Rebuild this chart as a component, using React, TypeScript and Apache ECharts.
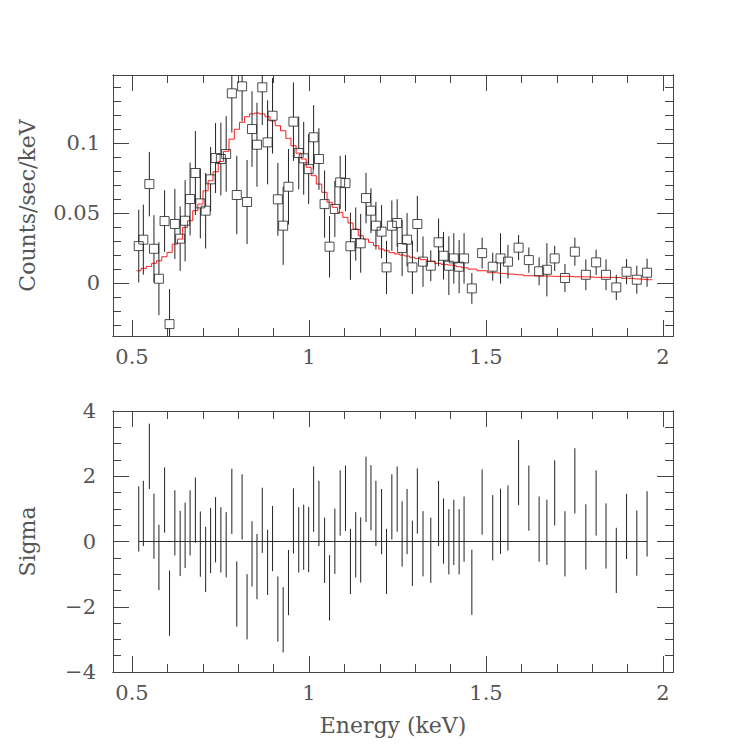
import React, { useEffect, useRef } from 'react';
import * as echarts from 'echarts';

// Bin centres (keV)
const energy = [
  0.519, 0.532, 0.549, 0.562, 0.576, 0.592, 0.606, 0.621, 0.636, 0.650,
  0.664, 0.679, 0.693, 0.708, 0.722, 0.736, 0.751, 0.766, 0.782, 0.796,
  0.811, 0.825, 0.839, 0.853, 0.868, 0.883, 0.897, 0.912, 0.927, 0.942,
  0.956, 0.971, 0.985, 0.999, 1.013, 1.028, 1.044, 1.058, 1.073, 1.088,
  1.103, 1.117, 1.132, 1.146, 1.161, 1.175, 1.189, 1.205, 1.219, 1.234,
  1.249, 1.263, 1.277, 1.292, 1.306, 1.322, 1.344, 1.366, 1.380, 1.395,
  1.409, 1.424, 1.438, 1.460, 1.489, 1.519, 1.541, 1.562, 1.592, 1.621,
  1.650, 1.672, 1.694, 1.723, 1.751, 1.782, 1.811, 1.839, 1.868, 1.897,
  1.926, 1.955,
];

// Observed rate (counts/sec/keV)
const counts = [
  0.0266, 0.0312, 0.0709, 0.0247, 0.0033, 0.0445, -0.0291, 0.0424, 0.0319, 0.0447,
  0.0602, 0.0788, 0.0571, 0.0519, 0.0743, 0.0895, 0.0888, 0.0924, 0.1357, 0.0631,
  0.1407, 0.0581, 0.1102, 0.0990, 0.1400, 0.1007, 0.1197, 0.0600, 0.0412, 0.0690,
  0.1155, 0.0931, 0.0893, 0.0816, 0.1043, 0.0888, 0.0566, 0.0262, 0.0531, 0.0721,
  0.0716, 0.0265, 0.0352, 0.0286, 0.0609, 0.0519, 0.0412, 0.0369, 0.0114, 0.0412,
  0.0431, 0.0252, 0.0312, 0.0114, 0.0424, 0.0155, 0.0126, 0.0293, 0.0197, 0.0126,
  0.0178, 0.0119, 0.0178, -0.0036, 0.0216, 0.0119, 0.0178, 0.0155, 0.0255, 0.0166,
  0.0086, 0.0097, 0.0178, 0.0038, 0.0226, 0.0061, 0.0150, 0.0061, -0.0029, 0.0083,
  0.0026, 0.0076,
];

// 1-sigma errors on the rate
const countErr = [
  0.026, 0.025, 0.023, 0.024, 0.026, 0.022, 0.025, 0.025, 0.023, 0.029,
  0.026, 0.030, 0.025, 0.027, 0.023, 0.025, 0.026, 0.027, 0.028, 0.028,
  0.025, 0.030, 0.027, 0.030, 0.027, 0.030, 0.027, 0.026, 0.028, 0.027,
  0.028, 0.026, 0.026, 0.025, 0.023, 0.022, 0.024, 0.022, 0.020, 0.019,
  0.020, 0.024, 0.019, 0.021, 0.018, 0.016, 0.017, 0.019, 0.019, 0.018,
  0.017, 0.020, 0.019, 0.019, 0.020, 0.018, 0.011, 0.017, 0.017, 0.021,
  0.018, 0.019, 0.018, 0.011, 0.011, 0.010, 0.018, 0.012, 0.009, 0.009,
  0.010, 0.019, 0.009, 0.010, 0.010, 0.011, 0.009, 0.011, 0.009, 0.009,
  0.010, 0.010,
];

// Folded model (red step line)
const model = [
  0.0090, 0.0107, 0.0121, 0.0143, 0.0161, 0.0190, 0.0221, 0.0280, 0.0316, 0.0400,
  0.0447, 0.0519, 0.0566, 0.0661, 0.0733, 0.0797, 0.0871, 0.0943, 0.1030, 0.1100,
  0.1150, 0.1190, 0.1210, 0.1216, 0.1210, 0.1190, 0.1160, 0.1126, 0.1090, 0.1036,
  0.0983, 0.0930, 0.0888, 0.0829, 0.0769, 0.0709, 0.0650, 0.0579, 0.0543, 0.0507,
  0.0471, 0.0431, 0.0388, 0.0340, 0.0316, 0.0293, 0.0269, 0.0245, 0.0233, 0.0219,
  0.0210, 0.0202, 0.0195, 0.0186, 0.0178, 0.0169, 0.0157, 0.0143, 0.0136, 0.0131,
  0.0126, 0.0119, 0.0111, 0.0102, 0.0090, 0.0076, 0.0071, 0.0066, 0.0061, 0.0054,
  0.0052, 0.0052, 0.0050, 0.0050, 0.0047, 0.0046, 0.0043, 0.0043, 0.0042, 0.0036,
  0.0031, 0.0026,
];

// Residuals in units of sigma
const sigma = [
  0.69, 0.86, 2.61, 0.47, -0.49, 1.27, -1.89, 0.57, -0.06, 0.19,
  0.57, 0.96, -0.08, -0.55, 0.03, 0.36, 0.05, -0.10, 1.23, -1.61,
  1.06, -2.00, -0.38, -0.77, 0.65, -0.64, 0.09, -2.07, -2.40, -1.26,
  0.63, 0.05, 0.13, 0.06, 1.30, 0.86, -0.27, -1.42, 0.01, 1.18,
  1.33, -0.61, -0.10, -0.26, 1.60, 1.34, 0.86, 0.61, -0.61, 1.06,
  1.30, 0.23, 0.61, -0.36, 1.24, -0.07, -0.27, 0.86, 0.32, -0.01,
  0.28, -0.01, 0.38, -1.25, 1.21, 0.42, 0.62, 0.72, 2.11, 1.33,
  0.38, 0.28, 1.49, -0.07, 1.86, 0.14, 1.18, 0.17, -0.58, 0.46,
  -0.05, 0.54,
];

// Axis ticks
const xMajorTicks = [0.5, 1, 1.5, 2];
const xMinorTicks = [0.5, 0.6, 0.7, 0.8, 0.9, 1.0, 1.1, 1.2, 1.3, 1.4, 1.5, 1.6, 1.7, 1.8, 1.9, 2.0];
const topYMajorTicks = [0, 0.05, 0.1];
const topYMinorTicks = [-0.03, -0.02, -0.01, 0, 0.01, 0.02, 0.03, 0.04, 0.05, 0.06, 0.07, 0.08, 0.09, 0.1, 0.11, 0.12, 0.13, 0.14];
const botYMajorTicks = [-4, -2, 0, 2, 4];
const botYMinorTicks = [-3.5, -3, -2.5, -2, -1.5, -1, -0.5, 0, 0.5, 1, 1.5, 2, 2.5, 3, 3.5];

const X_MIN = 0.4463;
const X_MAX = 2.0282;
const TOP_Y_MIN = -0.0376;
const TOP_Y_MAX = 0.1488;
const BOT_Y_MIN = -4;
const BOT_Y_MAX = 4;

const FONT = 'DejaVu Serif';
const TEXT_COLOR = '#555';
const AXIS_COLOR = '#444';
const FONT_SIZE = 22;

const minusFmt = (v: number) => (v < 0 ? '\u2212' + String(Math.abs(v)) : String(v));

function xAxisDef(gridIndex: number, position: string, ticks: number[], len: number, labels: boolean, name?: string) {
  return {
    type: 'value',
    gridIndex,
    position,
    min: X_MIN,
    max: X_MAX,
    name: name || '',
    nameLocation: 'middle',
    nameGap: 42,
    nameTextStyle: { fontFamily: FONT, fontSize: FONT_SIZE, color: TEXT_COLOR },
    axisLine: { show: true, onZero: false, lineStyle: { color: AXIS_COLOR, width: 1 } },
    axisTick: { show: true, inside: true, length: len, customValues: ticks, lineStyle: { color: AXIS_COLOR, width: 1 } },
    axisLabel: labels
      ? { show: true, customValues: xMajorTicks, margin: 10, fontFamily: FONT, fontSize: FONT_SIZE - 1, color: TEXT_COLOR, formatter: (v: number) => String(v) }
      : { show: false },
    splitLine: { show: false },
  };
}

function yAxisDef(gridIndex: number, position: string, min: number, max: number, ticks: number[], len: number, labelValues: number[] | null, margin: number, name?: string, nameGap?: number) {
  return {
    type: 'value',
    gridIndex,
    position,
    min,
    max,
    name: name || '',
    nameLocation: 'middle',
    nameGap: nameGap || 0,
    nameTextStyle: { fontFamily: FONT, fontSize: FONT_SIZE, color: TEXT_COLOR },
    axisLine: { show: true, onZero: false, lineStyle: { color: AXIS_COLOR, width: 1 } },
    axisTick: { show: true, inside: true, length: len, customValues: ticks, lineStyle: { color: AXIS_COLOR, width: 1 } },
    axisLabel: labelValues
      ? { show: true, customValues: labelValues, margin, fontFamily: FONT, fontSize: FONT_SIZE - 1, color: TEXT_COLOR, formatter: minusFmt }
      : { show: false },
    splitLine: { show: false },
  };
}

export default function App() {
  const ref = useRef<HTMLDivElement>(null);

  useEffect(() => {
    if (!ref.current) return;
    const chart = echarts.init(ref.current, undefined, { renderer: 'svg' });

    const pointData = energy.map((e, i) => [e, counts[i], countErr[i]]);
    const residData = energy.map((e, i) => [e, sigma[i]]);
    const n = energy.length;
    const lowEdge = energy[0] - (energy[1] - energy[0]) / 2;
    const highEdge = energy[n - 1] + (energy[n - 1] - energy[n - 2]) / 2;
    const modelData = [[lowEdge, model[0]], ...energy.map((e, i) => [e, model[i]]), [highEdge, model[n - 1]]];

    const SQ = 4.5;

    const option = {
      animation: false,
      backgroundColor: '#fff',
      grid: [
        { left: 113, top: 75, width: 560, height: 261 },
        { left: 113, top: 411, width: 560, height: 261 },
      ],
      xAxis: [
        xAxisDef(0, 'bottom', xMajorTicks, 16, true),
        xAxisDef(0, 'bottom', xMinorTicks, 8, false),
        xAxisDef(0, 'top', xMajorTicks, 16, false),
        xAxisDef(0, 'top', xMinorTicks, 8, false),
        xAxisDef(1, 'bottom', xMajorTicks, 16, true, 'Energy (keV)'),
        xAxisDef(1, 'bottom', xMinorTicks, 8, false),
        xAxisDef(1, 'top', xMajorTicks, 16, false),
        xAxisDef(1, 'top', xMinorTicks, 8, false),
      ],
      yAxis: [
        yAxisDef(0, 'left', TOP_Y_MIN, TOP_Y_MAX, topYMajorTicks, 16, topYMajorTicks, 13, 'Counts/sec/keV', 75),
        yAxisDef(0, 'left', TOP_Y_MIN, TOP_Y_MAX, topYMinorTicks, 8, null, 0),
        yAxisDef(0, 'right', TOP_Y_MIN, TOP_Y_MAX, topYMajorTicks, 16, null, 0),
        yAxisDef(0, 'right', TOP_Y_MIN, TOP_Y_MAX, topYMinorTicks, 8, null, 0),
        yAxisDef(1, 'left', BOT_Y_MIN, BOT_Y_MAX, botYMajorTicks, 16, botYMajorTicks, 17, 'Sigma', 75),
        yAxisDef(1, 'left', BOT_Y_MIN, BOT_Y_MAX, botYMinorTicks, 8, null, 0),
        yAxisDef(1, 'right', BOT_Y_MIN, BOT_Y_MAX, botYMajorTicks, 16, null, 0),
        yAxisDef(1, 'right', BOT_Y_MIN, BOT_Y_MAX, botYMinorTicks, 8, null, 0),
      ],
      series: [
        {
          type: 'line',
          name: 'model',
          xAxisIndex: 0,
          yAxisIndex: 0,
          step: 'middle',
          data: modelData,
          showSymbol: false,
          symbol: 'none',
          lineStyle: { color: '#ff1a1a', width: 1 },
          z: 3,
        },
        {
          type: 'custom',
          name: 'errors',
          xAxisIndex: 0,
          yAxisIndex: 0,
          data: pointData,
          renderItem: (params: any, api: any) => {
            const x = api.value(0);
            const y = api.value(1);
            const e = api.value(2);
            const c = api.coord([x, y]);
            const t = api.coord([x, y + e]);
            const b = api.coord([x, y - e]);
            const cs = params.coordSys;
            const clamp = (v: number) => Math.max(cs.y, Math.min(cs.y + cs.height, v));
            const style = { stroke: '#222', lineWidth: 1 };
            const children: any[] = [];
            const yt = clamp(t[1]);
            const yb = clamp(b[1]);
            if (yt < c[1] - SQ) children.push({ type: 'line', shape: { x1: c[0], y1: yt, x2: c[0], y2: c[1] - SQ }, style });
            if (yb > c[1] + SQ) children.push({ type: 'line', shape: { x1: c[0], y1: c[1] + SQ, x2: c[0], y2: yb }, style });
            return { type: 'group', children };
          },
          z: 4,
        },
        {
          type: 'scatter',
          name: 'data',
          xAxisIndex: 0,
          yAxisIndex: 0,
          data: pointData.map((p) => [p[0], p[1]]),
          symbol: 'rect',
          symbolSize: 9,
          itemStyle: { color: 'rgba(0,0,0,0)', borderColor: '#222', borderWidth: 1 },
          z: 5,
        },
        {
          type: 'line',
          name: 'zero',
          xAxisIndex: 4,
          yAxisIndex: 4,
          data: [[energy[0], 0], [energy[n - 1], 0]],
          showSymbol: false,
          symbol: 'none',
          lineStyle: { color: '#333', width: 1 },
          z: 3,
        },
        {
          type: 'custom',
          name: 'residuals',
          xAxisIndex: 4,
          yAxisIndex: 4,
          data: residData,
          renderItem: (params: any, api: any) => {
            const x = api.value(0);
            const s = api.value(1);
            const t = api.coord([x, s + 1]);
            const b = api.coord([x, s - 1]);
            return { type: 'line', shape: { x1: t[0], y1: t[1], x2: b[0], y2: b[1] }, style: { stroke: '#222', lineWidth: 1 } };
          },
          z: 4,
        },
      ],
    };

    chart.setOption(option as any);
    return () => chart.dispose();
  }, []);

  return <div ref={ref} style={{ position: 'absolute', left: 0, top: 0, width: 747, height: 747, background: '#fff' }} />;
}
